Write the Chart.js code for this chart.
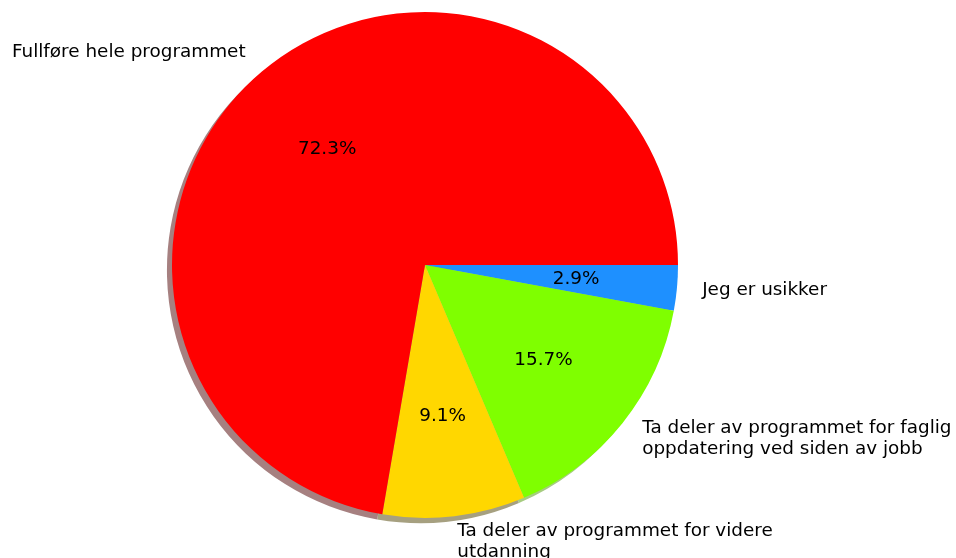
<!DOCTYPE html>
<html><head><meta charset="utf-8">
<script src="https://cdn.jsdelivr.net/npm/chart.js@4"></script>
<style>html,body{margin:0;padding:0;background:#fff}#wrap{width:956px;height:558px}</style>
</head><body><div id="wrap"><canvas id="c" width="956" height="558"></canvas></div>
<script>
// Data (listed clockwise from 3 o'clock, i.e. reverse of matplotlib's counter-clockwise order)
const categories = ["Jeg er usikker", "Ta deler av programmet for faglig\noppdatering ved siden av jobb", "Ta deler av programmet for videre\nutdanning", "Fullføre hele programmet"];
const values = [2.9, 15.7, 9.1, 72.3];
const colors = ["#1e90ff", "#7fff00", "#ffd700", "#ff0000"];
const shadowColors = ["rgb(137,171,205)", "rgb(166,204,128)", "rgb(166,160,128)", "rgb(166,128,128)"];

const FONT = '18.4px "DejaVu Sans"';

const shadowPlugin = {
  id: 'shadow',
  beforeDatasetsDraw(chart) {
    const ctx = chart.ctx;
    const meta = chart.getDatasetMeta(0);
    ctx.save();
    meta.data.forEach((arc, i) => {
      const off = arc.outerRadius * 0.02;
      ctx.beginPath();
      ctx.moveTo(arc.x - off, arc.y + off);
      ctx.arc(arc.x - off, arc.y + off, arc.outerRadius, arc.startAngle, arc.endAngle);
      ctx.closePath();
      ctx.fillStyle = shadowColors[i];
      ctx.fill();
    });
    ctx.restore();
  }
};

const labelPlugin = {
  id: 'labels',
  afterDatasetsDraw(chart) {
    const ctx = chart.ctx;
    const meta = chart.getDatasetMeta(0);
    const total = values.reduce((a, b) => a + b, 0);
    ctx.save();
    ctx.font = FONT;
    ctx.fillStyle = '#000';
    ctx.textBaseline = 'middle';
    meta.data.forEach((arc, i) => {
      const mid = (arc.startAngle + arc.endAngle) / 2;
      const r = arc.outerRadius;
      // percentage
      const px = arc.x + Math.cos(mid) * r * 0.6;
      const py = arc.y + Math.sin(mid) * r * 0.6;
      ctx.textAlign = 'center';
      ctx.fillText((values[i] / total * 100).toFixed(1) + '%', px, py);
      // category label
      const lx = arc.x + Math.cos(mid) * r * 1.1;
      const ly = arc.y + Math.sin(mid) * r * 1.1;
      ctx.textAlign = Math.cos(mid) >= 0 ? 'left' : 'right';
      const lines = categories[i].split('\n');
      const lh = 21;
      const y0 = ly - (lines.length - 1) * lh / 2;
      lines.forEach((ln, k) => ctx.fillText(ln, lx, y0 + k * lh));
    });
    ctx.restore();
  }
};

new Chart(document.getElementById('c'), {
  type: 'pie',
  data: {
    labels: categories,
    datasets: [{ data: values, backgroundColor: colors, borderWidth: 0, hoverOffset: 0 }]
  },
  options: {
    responsive: false,
    animation: false,
    rotation: 90,
    layout: { padding: { left: 172, right: 278, top: 12, bottom: 40 } },
    plugins: { legend: { display: false }, tooltip: { enabled: false } },
    events: []
  },
  plugins: [shadowPlugin, labelPlugin]
});
</script>
</body></html>
